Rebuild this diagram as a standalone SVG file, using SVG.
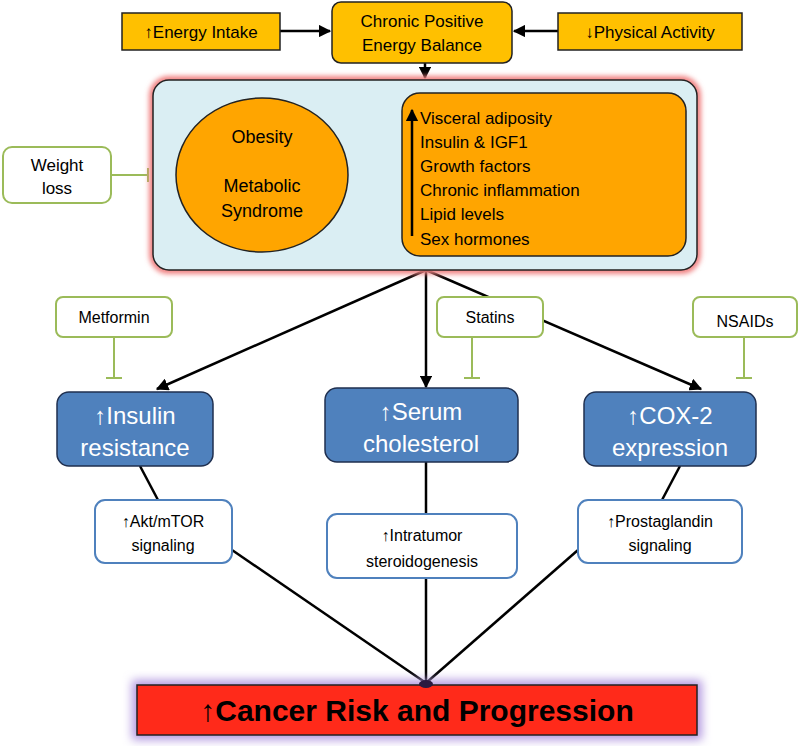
<svg xmlns="http://www.w3.org/2000/svg" width="800" height="746" viewBox="0 0 800 746">
<defs>
<marker id="ah" viewBox="0 0 10 10" refX="9" refY="5" markerWidth="5" markerHeight="5" orient="auto-start-reverse"><path d="M0,0 L10,5 L0,10 z" fill="#000"/></marker>
<filter id="pinkglow" x="-10%" y="-10%" width="120%" height="120%"><feGaussianBlur stdDeviation="2.5"/></filter>
<filter id="purpleglow" x="-10%" y="-30%" width="120%" height="160%"><feGaussianBlur stdDeviation="5"/></filter>
</defs>
<style>
text{font-family:"Liberation Sans",Arial,sans-serif;fill:#000;text-anchor:middle}
.gold{fill:#FFC000;stroke:#222;stroke-width:1.5}
.inh{fill:#fff;stroke:#9BBB59;stroke-width:2}
.inl{stroke:#9BBB59;stroke-width:2;fill:none}
.blue{fill:#4F81BD;stroke:#1F2F4F;stroke-width:1.5}
.blue-t{fill:#fff;font-size:24px}
.wb{fill:#fff;stroke:#4F81BD;stroke-width:2}
.conn{stroke:#000;stroke-width:2.5;fill:none}
.t17{font-size:17px}
.t16{font-size:16px}
.list{font-size:17px;text-anchor:start}
</style>
<rect width="800" height="746" fill="#fff"/>

<g id="connectors">
<line class="conn" x1="280" y1="31" x2="330" y2="31" marker-end="url(#ah)"/>
<line class="conn" x1="558" y1="31" x2="514" y2="31" marker-end="url(#ah)"/>
<line class="conn" x1="425" y1="63" x2="425" y2="78" marker-end="url(#ah)"/>
<line class="conn" x1="426" y1="270" x2="157" y2="389" marker-end="url(#ah)"/>
<line class="conn" x1="426" y1="270" x2="426" y2="387" marker-end="url(#ah)"/>
<line class="conn" x1="426" y1="270" x2="701" y2="389" marker-end="url(#ah)"/>
<line class="conn" x1="140" y1="466" x2="158" y2="500"/>
<line class="conn" x1="426" y1="462" x2="426" y2="514"/>
<line class="conn" x1="680" y1="466" x2="662" y2="500"/>
<line class="conn" x1="232" y1="550" x2="426" y2="683"/>
<line class="conn" x1="426" y1="578" x2="426" y2="683"/>
<line class="conn" x1="578" y1="550" x2="426" y2="683"/>
<line class="conn" x1="368" y1="174" x2="388" y2="174" stroke-width="2" marker-start="url(#ah)" marker-end="url(#ah)"/>
<line class="inl" x1="111" y1="175" x2="148" y2="175"/>
<line class="inl" x1="148" y1="168" x2="148" y2="182"/>
<line class="inl" x1="114" y1="337" x2="114" y2="378"/>
<line class="inl" x1="106" y1="378" x2="122" y2="378"/>
<line class="inl" x1="472" y1="337" x2="472" y2="378"/>
<line class="inl" x1="464" y1="378" x2="480" y2="378"/>
<line class="inl" x1="744" y1="337" x2="744" y2="378"/>
<line class="inl" x1="736" y1="378" x2="752" y2="378"/>
</g>

<g id="energy-intake"><rect class="gold" x="122" y="13" width="158" height="37"/><text class="t17" x="201" y="38">↑Energy Intake</text></g>
<g id="chronic-balance"><rect class="gold" x="332" y="2" width="180" height="61" rx="9"/><text class="t17" x="422" y="27">Chronic Positive</text><text class="t17" x="422" y="51">Energy Balance</text></g>
<g id="physical-activity"><rect class="gold" x="558" y="13" width="184" height="37"/><text class="t17" x="650" y="38">↓Physical Activity</text></g>

<g id="obesity-box">
<rect x="153" y="80" width="544" height="190" rx="16" fill="none" filter="url(#pinkglow)" stroke="#F08080" stroke-width="8"/>
<rect x="153" y="80" width="544" height="190" rx="16" fill="#DAEEF3" stroke="#222" stroke-width="1.5"/>
<ellipse cx="262" cy="175" rx="86" ry="77" fill="#FFA500" stroke="#222" stroke-width="1.5"/>
<text font-size="18" x="262" y="143">Obesity</text>
<text font-size="18" x="262" y="192">Metabolic</text>
<text font-size="18" x="262" y="217">Syndrome</text>
<rect x="402" y="93" width="284" height="163" rx="18" fill="#FFA500" stroke="#222" stroke-width="1.5"/>
<line x1="412" y1="236" x2="412" y2="110" stroke="#000" stroke-width="2.5" marker-end="url(#ah)"/>
<text class="list" x="420" y="124">Visceral adiposity</text>
<text class="list" x="420" y="148">Insulin &amp; IGF1</text>
<text class="list" x="420" y="172">Growth factors</text>
<text class="list" x="420" y="196">Chronic inflammation</text>
<text class="list" x="420" y="220">Lipid levels</text>
<text class="list" x="420" y="245">Sex hormones</text>
</g>

<g id="weight-loss"><rect class="inh" x="3" y="147" width="108" height="56" rx="9"/><text class="t17" x="57" y="171">Weight</text><text class="t17" x="57" y="194">loss</text></g>
<g id="metformin"><rect class="inh" x="56" y="297" width="116" height="40" rx="7"/><text class="t16" x="114" y="323">Metformin</text></g>
<g id="statins"><rect class="inh" x="437" y="297" width="106" height="40" rx="7"/><text class="t16" x="490" y="323">Statins</text></g>
<g id="nsaids"><rect class="inh" x="693" y="297" width="104" height="40" rx="7"/><text class="t16" x="745" y="327">NSAIDs</text></g>

<g id="insulin-resistance"><rect class="blue" x="57" y="392" width="156" height="74" rx="12"/><text class="blue-t" x="135" y="424">↑Insulin</text><text class="blue-t" x="135" y="456">resistance</text></g>
<g id="serum-cholesterol"><rect class="blue" x="325" y="388" width="193" height="74" rx="12"/><text class="blue-t" x="421" y="420">↑Serum</text><text class="blue-t" x="421" y="452">cholesterol</text></g>
<g id="cox2"><rect class="blue" x="584" y="392" width="172" height="74" rx="12"/><text class="blue-t" x="670" y="424">↑COX-2</text><text class="blue-t" x="670" y="456">expression</text></g>

<g id="akt"><rect class="wb" x="95" y="500" width="137" height="63" rx="10"/><text class="t16" x="163" y="527">↑Akt/mTOR</text><text class="t16" x="163" y="551">signaling</text></g>
<g id="intratumor"><rect class="wb" x="327" y="514" width="190" height="64" rx="10"/><text class="t16" x="422" y="541">↑Intratumor</text><text class="t16" x="422" y="567">steroidogenesis</text></g>
<g id="prostaglandin"><rect class="wb" x="578" y="500" width="164" height="63" rx="10"/><text class="t16" x="660" y="527">↑Prostaglandin</text><text class="t16" x="660" y="551">signaling</text></g>

<g id="cancer">
<rect x="137" y="685" width="560" height="50" fill="#B49AE0" filter="url(#purpleglow)" stroke="#B49AE0" stroke-width="10"/>
<rect x="137" y="685" width="560" height="50" fill="#FF2A1A" stroke="#222" stroke-width="1.5"/>
<text x="417" y="721" font-size="30" font-weight="bold">↑Cancer Risk and Progression</text>
<ellipse cx="426" cy="684" rx="7" ry="4" fill="#2A1A40"/>
</g>
</svg>
